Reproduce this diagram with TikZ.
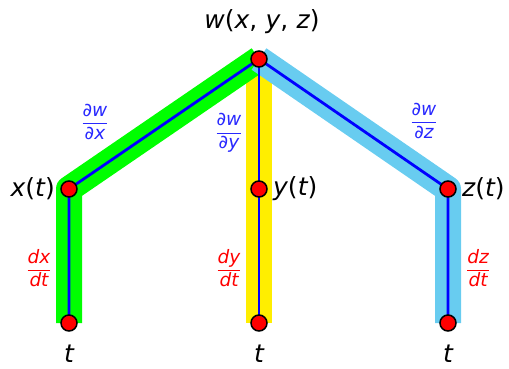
\documentclass[tikz,border=0pt]{standalone}
\usepackage{fontspec}
\newfontfamily\djv{DejaVu Sans}
\newcommand{\vi}[1]{{\djv\itshape #1}}
\newcommand{\vu}[1]{{\djv #1}}
\newcommand{\myfr}[2]{$\displaystyle\frac{\mbox{\vi{#1}}}{\mbox{\vi{#2}}}$}
\definecolor{hlgreen}{RGB}{0,255,0}
\definecolor{hlyellow}{RGB}{255,238,0}
\definecolor{hlblue}{RGB}{104,204,240}
\definecolor{lineblue}{RGB}{0,0,255}
\definecolor{fracred}{RGB}{255,0,0}
\definecolor{fracblue}{RGB}{40,40,255}
\tikzset{
  band/.style={line width=26pt, line cap=butt, line join=round, draw=#1},
  branch/.style={line width=2.8pt, draw=lineblue, line cap=butt, line join=round},
  dot/.style={circle, fill=red, draw=black, line width=1.5pt, minimum size=16pt, inner sep=0pt},
  lbl/.style={font=\fontsize{25}{28}\selectfont, inner sep=0pt},
  frb/.style={font=\fontsize{18.5}{20}\selectfont, text=fracblue, inner sep=0pt},
  frr/.style={font=\fontsize{18.5}{20}\selectfont, text=fracred, inner sep=0pt}
}
\begin{document}
\begin{tikzpicture}[x=1pt,y=-1pt]
\useasboundingbox (0,0) rectangle (509,369);
% positions
\coordinate (w) at (259,59);
\coordinate (x) at (69,189);
\coordinate (y) at (259,189);
\coordinate (z) at (448,189);
\coordinate (tx) at (69,323);
\coordinate (ty) at (259,323);
\coordinate (tz) at (448,323);
% highlight bands
\draw[band=hlyellow] (w) -- (y) -- (ty);
\draw[band=hlgreen] (w) -- (x) -- (tx);
\draw[band=hlblue] (w) -- (z) -- (tz);
% branches
\draw[branch] (w) -- (x) -- (tx);
\draw[branch] (w) -- (y) -- (ty);
\draw[branch] (w) -- (z) -- (tz);
% dots
\foreach \p in {w,x,y,z,tx,ty,tz} \node[dot] (d\p) at (\p) {};
% labels
\node[lbl] (lw) at (262,22) {\vi{w}\vu{(}\vi{x}\vu{,\,\,}\vi{y}\vu{,\,\,}\vi{z}\vu{)}};
\node[lbl, anchor=east] (lx) at (55,189) {\vi{x}\vu{(}\vi{t}\vu{)}};
\node[lbl, anchor=west] (ly) at (273,189) {\vi{y}\vu{(}\vi{t}\vu{)}};
\node[lbl, anchor=west] (lz) at (462,189) {\vi{z}\vu{(}\vi{t}\vu{)}};
\node[lbl] (l1) at (69,354) {\vi{t}};
\node[lbl] (l2) at (259,354) {\vi{t}};
\node[lbl] (l3) at (448,354) {\vi{t}};
% fractions
\node[frb] (fwx) at (95,122) {\myfr{∂w}{∂x}};
\node[frb] (fwy) at (229,133) {\myfr{∂w}{∂y}};
\node[frb] (fwz) at (424,121) {\myfr{∂w}{∂z}};
\node[frr] (fxt) at (39,268) {\myfr{dx}{dt}};
\node[frr] (fyt) at (229,268) {\myfr{dy}{dt}};
\node[frr] (fzt) at (478,268) {\myfr{dz}{dt}};
\end{tikzpicture}
\end{document}
